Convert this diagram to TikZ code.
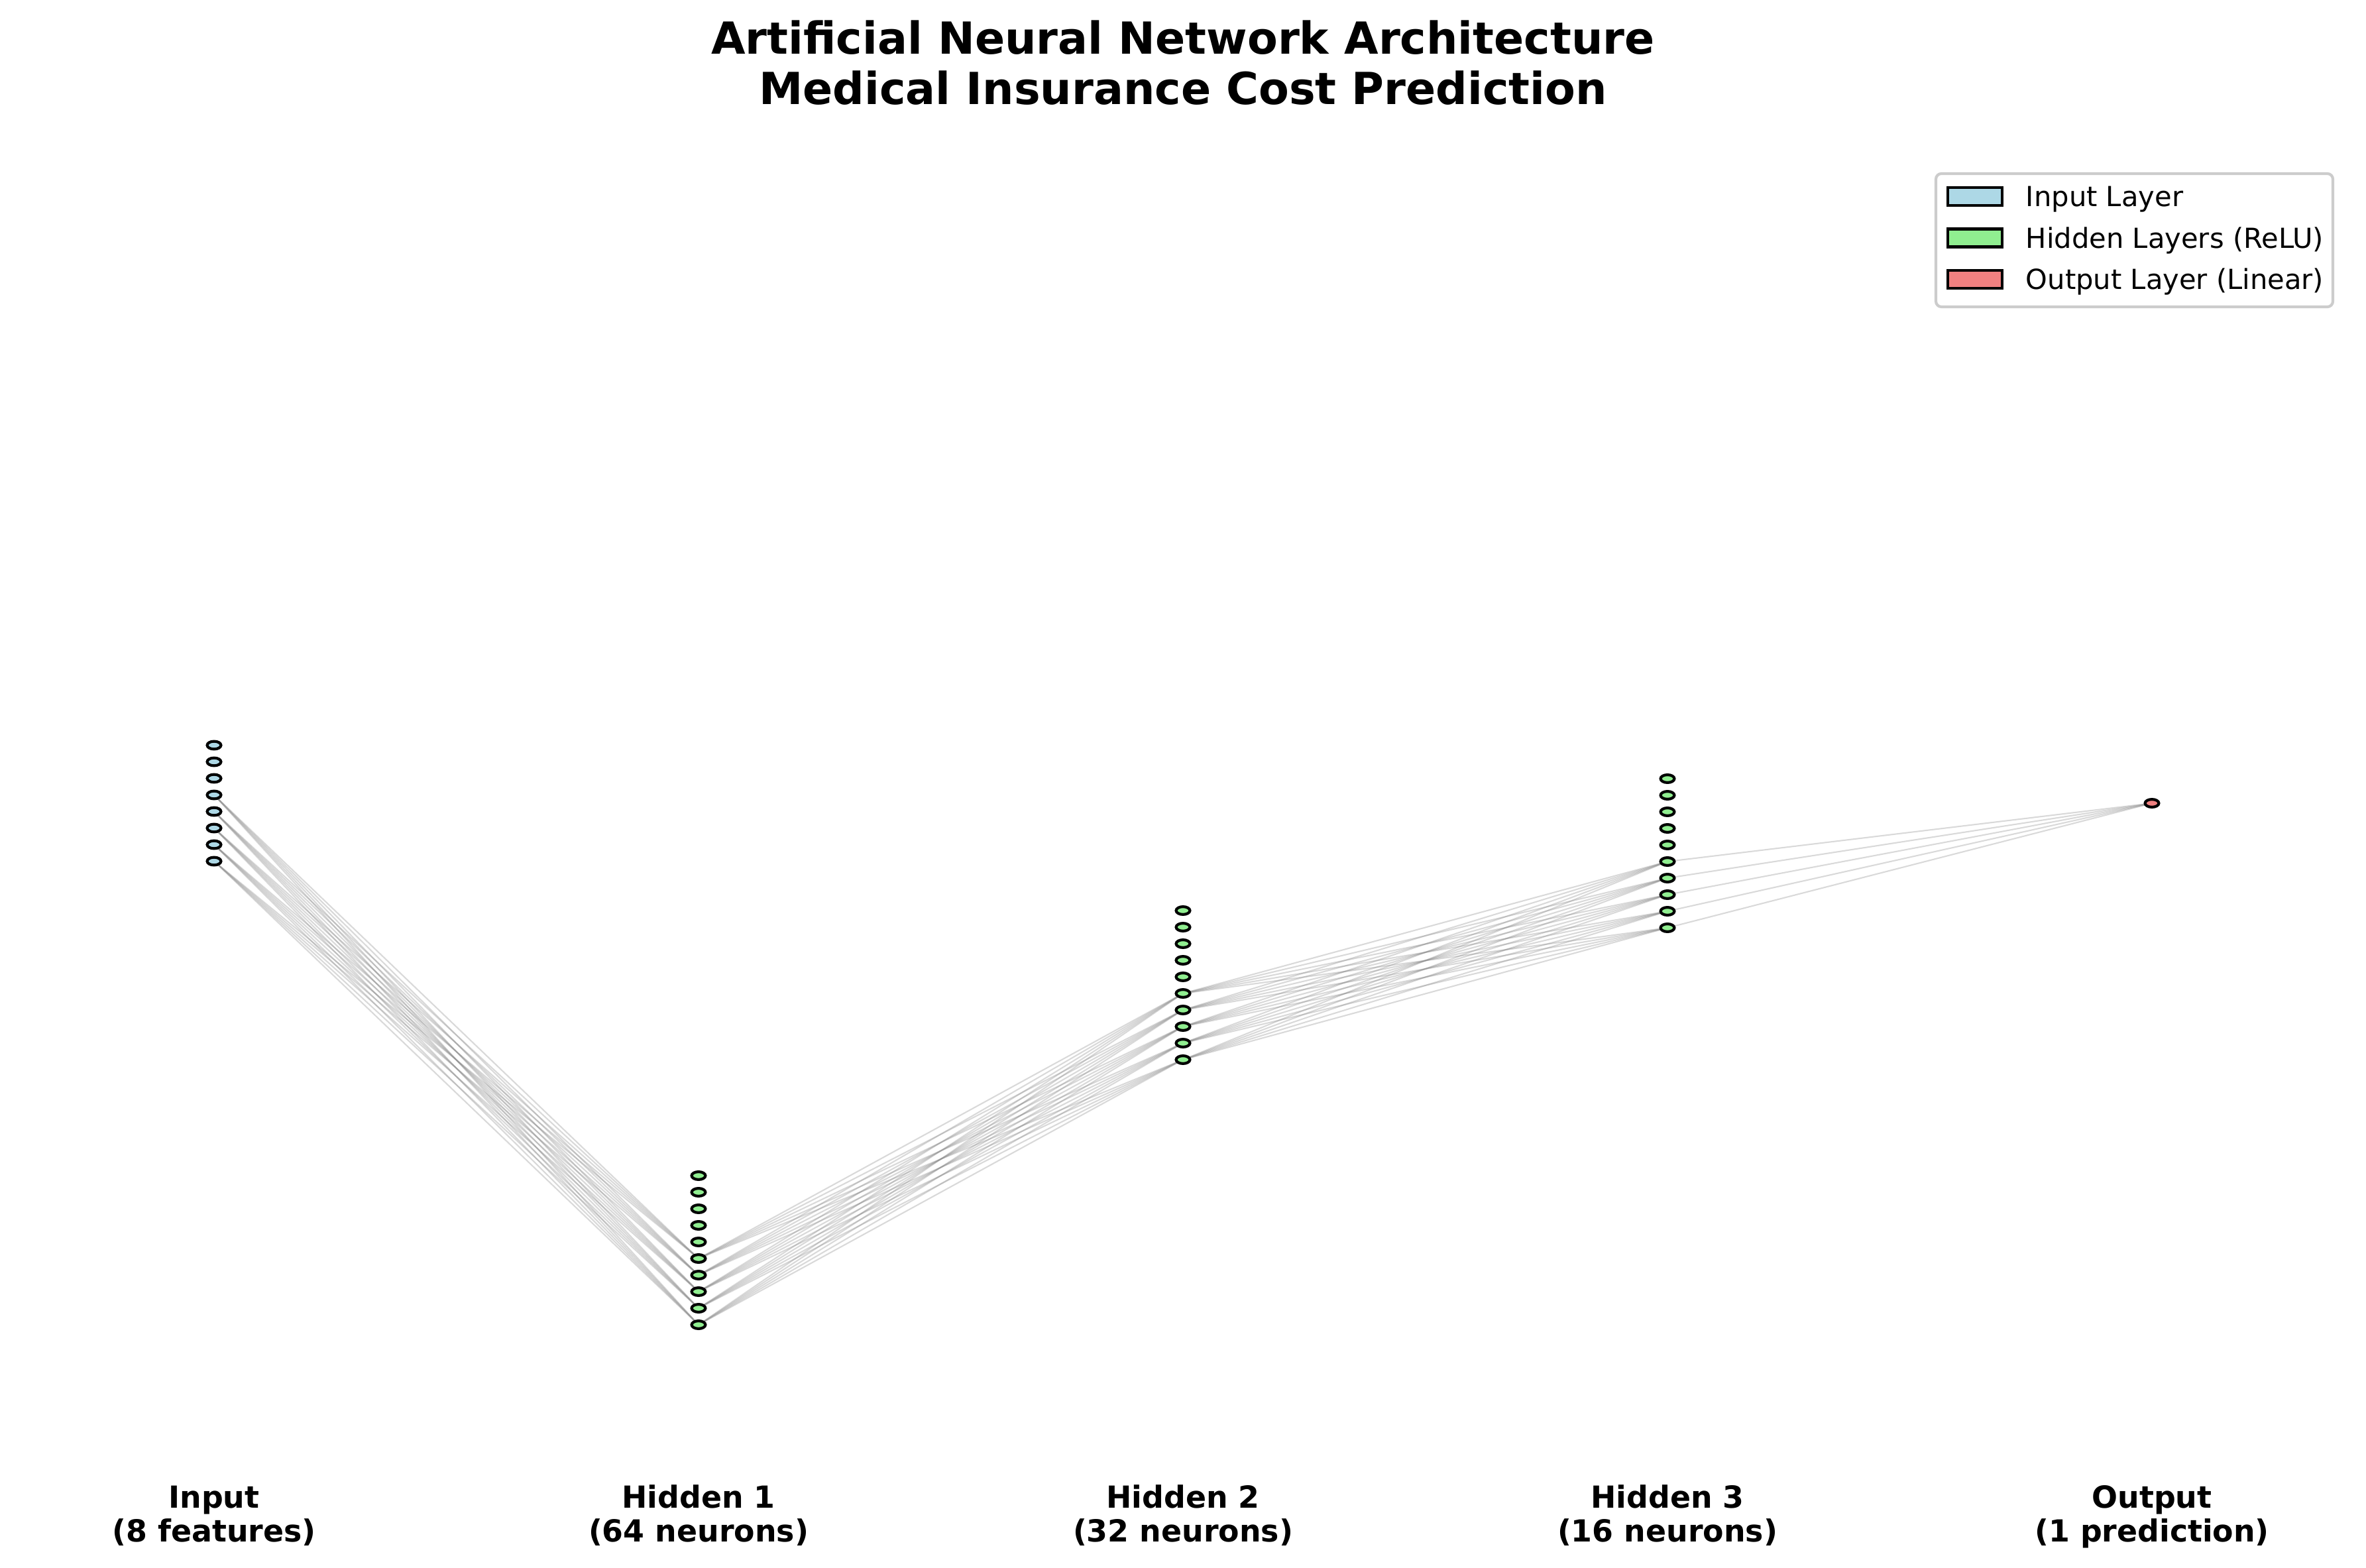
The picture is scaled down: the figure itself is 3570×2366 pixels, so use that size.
\documentclass[tikz,border=0pt]{standalone}
\usepackage{fontspec}
\setmainfont{DejaVu Sans}
\usetikzlibrary{shapes.geometric,backgrounds}
\definecolor{lblue}{HTML}{ADD8E6}
\definecolor{lgreen}{HTML}{90EE90}
\definecolor{lcoral}{HTML}{F08080}
\begin{document}
\begin{tikzpicture}[x=0.24pt,y=-0.24pt,
  neuron/.style={ellipse,draw=black,line width=1pt,minimum width=4.99pt,minimum height=2.83pt,inner sep=0pt,outer sep=0pt},
  conn/.style={draw=gray,opacity=0.3,line width=0.5pt},
  lbl/.style={font=\fontsize{11}{12.4}\selectfont\bfseries,align=center,anchor=base,inner sep=0pt},
  ttl/.style={font=\fontsize{16}{18.1}\selectfont\bfseries,align=center,anchor=base,inner sep=0pt},
  legtxt/.style={font=\fontsize{10}{12}\selectfont,anchor=base west,inner sep=0pt},
  legpatch/.style={draw=black,line width=1pt},
  legframe/.style={draw=black!20,fill=white,line width=1pt,rounded corners=2pt}]
\useasboundingbox (0,0) rectangle (3570,2366);
% neurons
\foreach \k in {0,...,7} \node[neuron,fill=lblue] (i\k) at (323,{1124.5+25*\k}) {};
\foreach \k in {0,...,9} \node[neuron,fill=lgreen] (a\k) at (1054,{1774+25*\k}) {};
\foreach \k in {0,...,9} \node[neuron,fill=lgreen] (b\k) at (1785,{1374+25*\k}) {};
\foreach \k in {0,...,9} \node[neuron,fill=lgreen] (c\k) at (2516,{1175+25*\k}) {};
\node[neuron,fill=lcoral] (o) at (3247,1212) {};
% connections
\begin{pgfonlayer}{background}
\foreach \s in {3,...,7} \foreach \t in {5,...,9} \draw[conn] (i\s.center) -- (a\t.center);
\foreach \s in {5,...,9} \foreach \t in {5,...,9} \draw[conn] (a\s.center) -- (b\t.center);
\foreach \s in {5,...,9} \foreach \t in {5,...,9} \draw[conn] (b\s.center) -- (c\t.center);
\foreach \s in {5,...,9} \draw[conn] (c\s.center) -- (o.center);
\end{pgfonlayer}
% title
\node[ttl] (title) at (1785,157.3) {Artificial Neural Network Architecture\\Medical Insurance Cost Prediction};
% layer labels
\node[lbl] (l0) at (323,2326.7) {Input\\(8 features)};
\node[lbl] (l1) at (1054,2326.7) {Hidden 1\\(64 neurons)};
\node[lbl] (l2) at (1785,2326.7) {Hidden 2\\(32 neurons)};
\node[lbl] (l3) at (2516,2326.7) {Hidden 3\\(16 neurons)};
\node[lbl] (l4) at (3247,2326.7) {Output\\(1 prediction)};
% legend
\draw[legframe] (2921,262) rectangle (3520,463);
\draw[legpatch,fill=lblue] (2939,283) rectangle (3021,310);
\draw[legpatch,fill=lgreen] (2939,345.5) rectangle (3021,372.5);
\draw[legpatch,fill=lcoral] (2939,408) rectangle (3021,435);
\node[legtxt] (t0) at (3056,311.7) {Input Layer};
\node[legtxt] (t1) at (3056,374.2) {Hidden Layers (ReLU)};
\node[legtxt] (t2) at (3056,436.7) {Output Layer (Linear)};
\end{tikzpicture}
\end{document}
